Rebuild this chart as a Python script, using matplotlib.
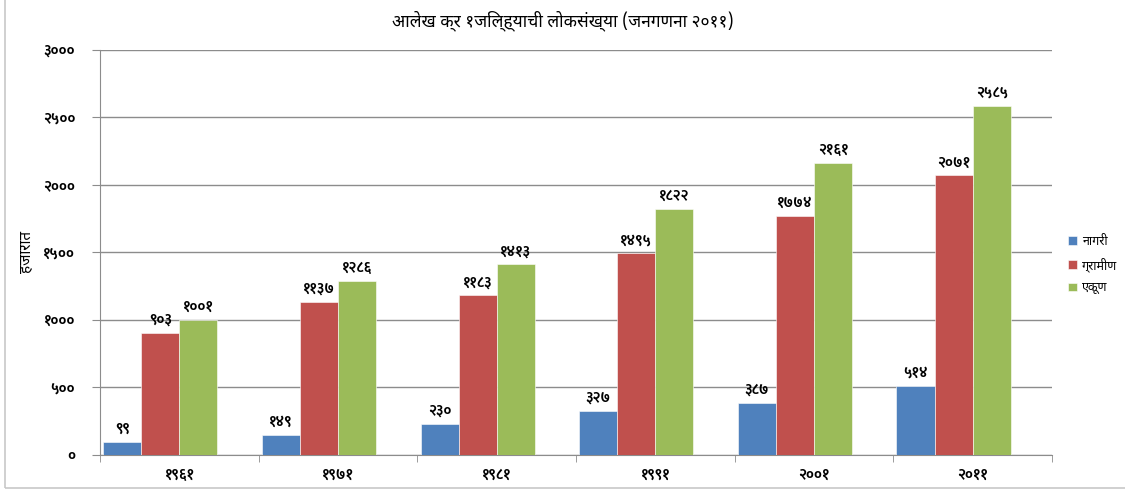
import numpy as np
import matplotlib
matplotlib.use("Agg")
import matplotlib.pyplot as plt
from matplotlib import font_manager
from matplotlib.ft2font import FT2Font
from matplotlib.patches import Rectangle

years = [1961, 1971, 1981, 1991, 2001, 2011]
nagari = [99, 149, 230, 327, 387, 514]
gramin = [903, 1137, 1183, 1495, 1774, 2071]
ekun = [1001, 1286, 1413, 1822, 2161, 2585]
series_names = ["नागरी", "ग्रामीण", "एकूण"]
colors = ["#4F81BD", "#C0504D", "#9BBB59"]
title = "आलेख क्र १जिल्ह्याची लोकसंख्या (जनगणना २०११)"
ylabel = "हजारात"

# fonts with Devanagari glyphs (unifont is a bitmap font, skip it)
deva = {}
bold_ok = set()
for f in font_manager.fontManager.ttflist:
    try:
        cm = FT2Font(f.fname).get_charmap()
    except Exception:
        continue
    if 0x0915 not in cm:
        continue
    deva.setdefault(f.name, 0)
    w_ = f.weight if isinstance(f.weight, int) else 400
    # real devanagari digits, not mapped onto latin ones
    if w_ >= 600 and 0x0967 in cm and cm[0x0967] != cm.get(0x31):
        bold_ok.add(f.name)
prefer = ["Noto Sans Devanagari", "Hind", "Mukta", "Annapurna SIL", "FreeSans"]
picked = [n for n in prefer if n in deva]
if not picked:
    picked = [n for n in deva if "nifont" not in n]
plt.rcParams['font.family'] = picked[:1] + ["DejaVu Sans"]
bold_pref = ["Noto Sans Devanagari", "Mukta", "Annapurna SIL", "Hind", "FreeSans"]
bold_fam = [n for n in bold_pref if n in bold_ok][:1] + picked[:1] + ["DejaVu Sans"]

def dev(n):
    return str(n).translate(str.maketrans("0123456789", "०१२३४५६७८९"))

fig = plt.figure(figsize=(11.25, 4.92), dpi=100)
ax = fig.add_axes([0.0889, 0.0752, 0.8462, 0.8232])

x = np.arange(len(years))
w = 0.24
for i, (vals, name, c) in enumerate(zip([nagari, gramin, ekun], series_names, colors)):
    bars = ax.bar(x + (i - 1.5) * w, vals, w, color=c, label=name, zorder=3,
                  edgecolor="white", linewidth=0.4)
    for b, v in zip(bars, vals):
        ax.text(b.get_x() + b.get_width() / 2, v + 45, dev(v), ha="center",
                va="bottom", fontsize=10.5, fontweight="bold", family=bold_fam)

ax.set_xlim(-0.5, len(years) - 0.5)
ax.set_ylim(0, 3000)
ax.set_yticks(range(0, 3001, 500))
ax.set_yticklabels([dev(v) for v in range(0, 3001, 500)], fontsize=10.5,
                   fontweight="bold", family=bold_fam)
ax.yaxis.grid(True, color="#8c8c8c", linewidth=1, zorder=0)
ax.set_xticks(x)
ax.set_xticklabels([dev(y) for y in years], fontsize=10.5, fontweight="bold",
                   family=bold_fam)
ax.tick_params(axis="x", length=0, pad=10)
ax.set_xticks(np.arange(-0.5, len(years), 1), minor=True)
ax.tick_params(axis="x", which="minor", length=5, color="#8c8c8c")
ax.tick_params(axis="y", length=6, color="#8c8c8c", pad=12)
for s in ["top", "right"]:
    ax.spines[s].set_visible(False)
ax.spines["left"].set_color("#8c8c8c")
ax.spines["bottom"].set_color("#8c8c8c")

ax.set_ylabel(ylabel, fontsize=11)
ax.yaxis.set_label_coords(-0.068, 0.5)
fig.text(0.5, 0.958, title, ha="center", va="center", fontsize=12.5)

ax.legend(loc="center left", bbox_to_anchor=(1.005, 0.47), frameon=False,
          fontsize=9, handlelength=0.7, handleheight=0.7, labelspacing=0.75,
          handletextpad=0.4)

fig.patches.append(Rectangle((0.004, 0.008), 1.2, 1.2, transform=fig.transFigure,
                             fill=False, edgecolor="#c8c8c8", linewidth=1.2))

fig.savefig("out.png", dpi=100)
